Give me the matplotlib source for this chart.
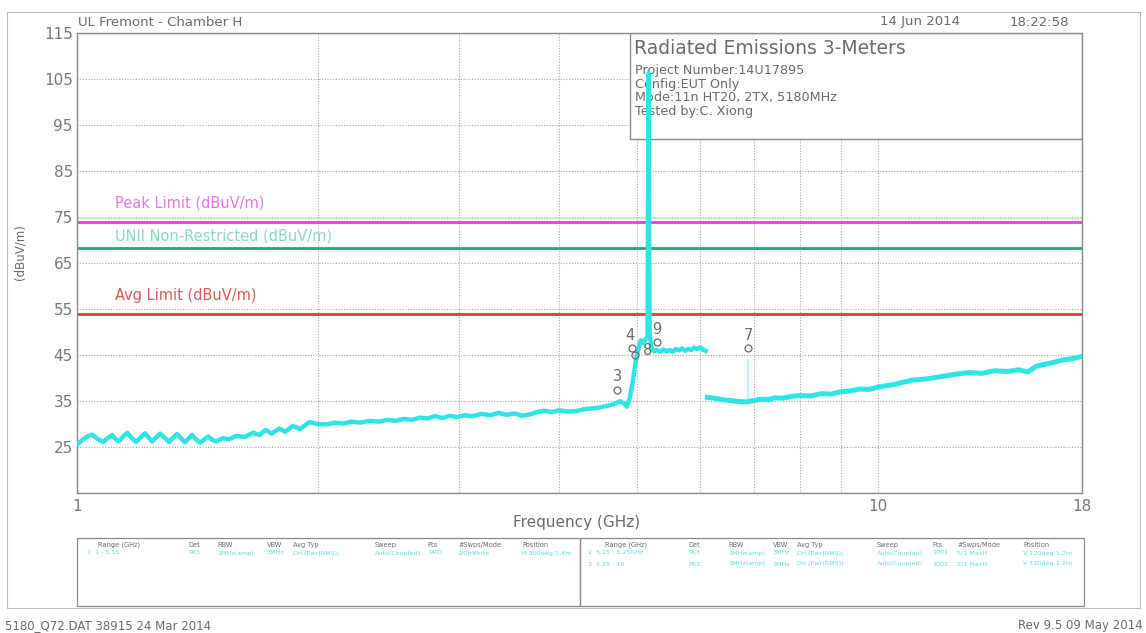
import matplotlib
matplotlib.use("Agg")
import matplotlib.pyplot as plt
from matplotlib.patches import Rectangle
from matplotlib.ticker import NullLocator

# ---- data ----
# trace below the band edge, through the 5180 MHz carrier, up to the jump
seg1_freq = [1.000, 1.012, 1.028, 1.044, 1.060, 1.078, 1.092, 1.106, 1.118, 1.128,
             1.142, 1.155, 1.170, 1.185, 1.200, 1.216, 1.228, 1.241, 1.256, 1.270,
             1.287, 1.303, 1.318, 1.333, 1.349, 1.364, 1.378, 1.392, 1.408, 1.424,
             1.441, 1.458, 1.475, 1.492, 1.52, 1.55, 1.58, 1.62, 1.66, 1.69,
             1.72, 1.75, 1.79, 1.82, 1.86, 1.90, 1.95, 2.00, 2.05, 2.10,
             2.15, 2.20, 2.26, 2.32, 2.38, 2.44, 2.50, 2.56, 2.62, 2.68,
             2.74, 2.80, 2.86, 2.92, 2.98, 3.05, 3.12, 3.20, 3.28, 3.36,
             3.44, 3.52, 3.60, 3.68, 3.76, 3.84, 3.92, 4.00, 4.10, 4.20,
             4.30, 4.40, 4.50, 4.58, 4.66, 4.72, 4.77, 4.82, 4.86, 4.90,
             4.95, 4.99, 5.02, 5.06, 5.10, 5.13, 5.16, 5.175, 5.19, 5.22,
             5.26, 5.30, 5.35, 5.40, 5.45, 5.50, 5.55, 5.60, 5.65, 5.70,
             5.75, 5.80, 5.85, 5.90, 5.95, 6.00, 6.05, 6.10]
seg1_level = [25.6, 26.3, 27.2, 27.7, 26.8, 26.1, 26.9, 27.6, 26.7, 26.2,
              27.3, 28.1, 27.0, 26.1, 27.0, 28.0, 27.1, 26.2, 27.1, 27.9,
              27.0, 26.1, 27.0, 27.8, 26.9, 26.0, 26.8, 27.6, 26.7, 25.9,
              26.6, 27.3, 26.6, 26.2, 26.9, 26.7, 27.4, 27.2, 28.1, 27.6,
              28.7, 27.9, 29.0, 28.3, 29.6, 28.9, 30.4, 30.0, 29.9, 30.3,
              30.1, 30.5, 30.3, 30.7, 30.5, 30.9, 30.7, 31.1, 30.9, 31.4,
              31.2, 31.7, 31.3, 31.8, 31.5, 31.9, 31.7, 32.2, 31.9, 32.4,
              32.0, 32.3, 31.8, 32.1, 32.6, 32.9, 32.6, 33.0, 32.7, 32.8,
              33.2, 33.4, 33.6, 33.9, 34.2, 34.6, 35.0, 34.4, 33.8, 35.5,
              39.6, 43.9, 46.0, 48.2, 47.6, 48.5, 49.0, 106.3, 49.5, 46.4,
              45.8, 46.1, 45.7, 46.2, 45.8, 46.1, 45.7, 46.3, 46.0, 46.4,
              45.9, 46.3, 46.1, 46.6, 46.3, 46.7, 46.2, 45.9]

# trace above the jump at about 6.1 GHz
seg2_freq = [6.13, 6.25, 6.40, 6.55, 6.70, 6.85, 7.00,
             7.15, 7.30, 7.45, 7.60, 7.80, 8.00, 8.25, 8.50, 8.75, 9.00,
             9.25, 9.50, 9.75, 10.0, 10.5, 11.0, 11.5, 12.0, 12.5, 13.0,
             13.5, 14.0, 14.5, 15.0, 15.4, 15.8, 16.2, 16.6, 17.0, 17.5, 18.0]
seg2_level = [35.8, 35.6, 35.3, 35.1, 34.9, 34.8, 35.1,
              35.4, 35.3, 35.7, 35.6, 36.0, 36.2, 36.1, 36.6, 36.5, 37.0,
              37.2, 37.6, 37.5, 38.0, 38.6, 39.5, 39.8, 40.3, 40.8, 41.2,
              41.0, 41.6, 41.4, 41.8, 41.3, 42.6, 43.0, 43.4, 43.9, 44.2, 44.7]

# faint narrow spike under marker 7
spike_freq = [6.89, 6.89]
spike_level = [35.0, 44.0]

# numbered markers
marker_id = ["3", "4", "8", "9", "7"]
marker_freq = [4.73, 4.93, 4.97, 5.30, 6.89]
marker_level = [37.4, 46.5, 45.0, 47.8, 46.5]
marker_offset = [(0, 4), (-1, 4), (6, -2), (0, 4), (0, 4)]

# limit lines
limit_names = ["Peak Limit (dBuV/m)", "UNII Non-Restricted (dBuV/m)", "Avg Limit (dBuV/m)"]
limit_levels = [74.0, 68.2, 54.0]
limit_colors = ["#e23ee2", "#2e9e7e", "#e23b3b"]
limit_text_colors = ["#e27ae2", "#86d8cb", "#d85a5a"]
limit_text_levels = [78.0, 70.9, 58.0]

y_ticks = [15, 25, 35, 45, 55, 65, 75, 85, 95, 105, 115]
x_ticks = [1, 2, 3, 4, 5, 6, 7, 8, 9, 10, 18]
x_tick_labels = ["1", "", "", "", "", "", "", "", "", "10", "18"]

info_lines = ["Project Number:14U17895", "Config:EUT Only",
              "Mode:11n HT20, 2TX, 5180MHz", "Tested by:C. Xiong"]

table_heads = ["Range (GHz)", "Det", "RBW", "VBW", "Avg Typ", "Sweep", "Pts", "#Swps/Mode", "Position"]
left_rows = [["1  1 - 5.15", "PK3", "1MHz(amp)", "3MHz", "On (Pwr(RMS))", "Auto(Coupled)", "1401", "2/ClrWrite", "H 300deg 1.4m"]]
right_rows = [["2  5.15 - 5.25GHz", "PK3", "1MHz(amp)", "3MHz", "On (Pwr(RMS))", "Auto(Coupled)", "1001", "5/1 MaxH", "V 120deg 1.2m"],
              ["3  5.25 - 18", "PK3", "1MHz(amp)", "3MHz", "On (Pwr(RMS))", "Auto(Coupled)", "1001", "2/1 MaxH", "V 120deg 1.2m"]]

W, H = 1146, 633
GRAY = "#6a6a6a"
TRACE = "#2fe4e4"


def px(x, y):
    # pixel position in the reference -> figure fraction
    return x / W, 1 - y / H


fig = plt.figure(figsize=(W / 100, H / 100), dpi=100)
plt.rcParams['font.family'] = ['DejaVu Sans']

# outer frame
fig.patches.append(Rectangle(px(7, 608), 1133 / W, 596 / H, transform=fig.transFigure,
                             fill=False, edgecolor="#bcbcbc", lw=0.8))

ax = fig.add_axes([77 / W, 1 - 493 / H, 1005 / W, 460 / H])
ax.set_xscale('log')
ax.set_xlim(1, 18)
ax.set_ylim(15, 115)
ax.set_xticks(x_ticks)
ax.set_xticklabels(x_tick_labels)
ax.xaxis.set_minor_locator(NullLocator())
ax.set_yticks(y_ticks)
ax.set_yticklabels([""] + [str(v) for v in y_ticks[1:]])
ax.tick_params(length=0, labelsize=11, colors="#777777", pad=3)
ax.tick_params(axis='x', pad=4)
ax.grid(True, color="#a8a8a8", lw=0.8, linestyle=(0, (1, 1.5)))
ax.set_axisbelow(True)
for s in ax.spines.values():
    s.set_color("#8a8a8a")
    s.set_linewidth(1.0)

# info box (drawn under the trace, over the grid)
ax.add_patch(Rectangle((0.550, 0.770), 0.450, 0.230, transform=ax.transAxes,
                       facecolor="white", edgecolor="#8a8a8a", lw=1.0, zorder=1.5))
ax.text(0.554, 0.988, "Radiated Emissions 3-Meters", transform=ax.transAxes,
        fontsize=13.5, color=GRAY, va='top', zorder=1.6)
for i, line in enumerate(info_lines):
    ax.text(0.555, 0.932 - i * 0.0293, line, transform=ax.transAxes,
            fontsize=9.2, color=GRAY, va='top', zorder=1.6)

# limit lines and their labels
ax.axhline(74.7, color="#cdeeb5", lw=1.0, zorder=2)
for name, lvl, col, tcol, tlvl in zip(limit_names, limit_levels, limit_colors,
                                      limit_text_colors, limit_text_levels):
    ax.axhline(lvl, color=col, lw=2.0, zorder=2)
    ax.text(1.115, tlvl, name, color=tcol, fontsize=10.5, va='center', zorder=2)

# measured trace
ax.plot(seg1_freq, seg1_level, color=TRACE, lw=3.2, solid_joinstyle='round', zorder=3)
ax.plot(seg2_freq, seg2_level, color=TRACE, lw=3.6, solid_joinstyle='round', zorder=3)
ax.plot(spike_freq, spike_level, color="#b8f2f2", lw=1.2, zorder=2.9)

# markers
ax.plot(marker_freq, marker_level, linestyle='none', marker='o', ms=5,
        mfc='none', mec=GRAY, mew=0.9, zorder=4)
for mid, f, lvl, off in zip(marker_id, marker_freq, marker_level, marker_offset):
    ax.annotate(mid, (f, lvl), xytext=off, textcoords='offset points',
                ha='center' if off[0] < 3 else 'left', va='bottom', fontsize=10.5,
                color=GRAY, zorder=4)

# header / axis texts
fig.text(*px(78, 22), "UL Fremont - Chamber H", fontsize=9.5, color=GRAY, va='center')
fig.text(*px(880, 22), "14 Jun 2014", fontsize=9.5, color=GRAY, va='center')
fig.text(*px(1010, 22), "18:22:58", fontsize=9.5, color=GRAY, va='center')
fig.text(*px(577, 522), "Frequency (GHz)", fontsize=11, color=GRAY, ha='center', va='center')
fig.text(*px(20, 252), "(dBuV/m)", fontsize=8.5, color=GRAY, ha='center', va='center', rotation=90)

# settings table
fig.patches.append(Rectangle(px(77, 606), 503 / W, 68 / H, transform=fig.transFigure,
                             fill=False, edgecolor="#8a8a8a", lw=0.9))
fig.patches.append(Rectangle(px(580, 606), 504 / W, 68 / H, transform=fig.transFigure,
                             fill=False, edgecolor="#8a8a8a", lw=0.9))
left_cols = [98, 188, 217, 267, 293, 375, 427, 458, 522]
right_cols = [605, 688, 728, 773, 797, 877, 932, 957, 1023]
for x, head in zip(left_cols, table_heads):
    fig.text(*px(x, 545), head, fontsize=4.8, color=GRAY, va='center')
for x, head in zip(right_cols, table_heads):
    fig.text(*px(x, 545), head, fontsize=4.8, color=GRAY, va='center')
for r, row in enumerate(left_rows):
    for x, cell in zip([87] + left_cols[1:], row):
        fig.text(*px(x, 553 + r * 11), cell, fontsize=4.6, color="#55e0e0", va='center')
for r, row in enumerate(right_rows):
    for x, cell in zip([588] + right_cols[1:], row):
        fig.text(*px(x, 553 + r * 11), cell, fontsize=4.6, color="#55e0e0", va='center')

# footer
fig.text(*px(5, 626), "5180_Q72.DAT 38915 24 Mar 2014", fontsize=8.5, color=GRAY, va='center')
fig.text(*px(1143, 626), "Rev 9.5 09 May 2014", fontsize=8.5, color=GRAY, va='center', ha='right')

fig.savefig("out.png", dpi=100, facecolor="white")
